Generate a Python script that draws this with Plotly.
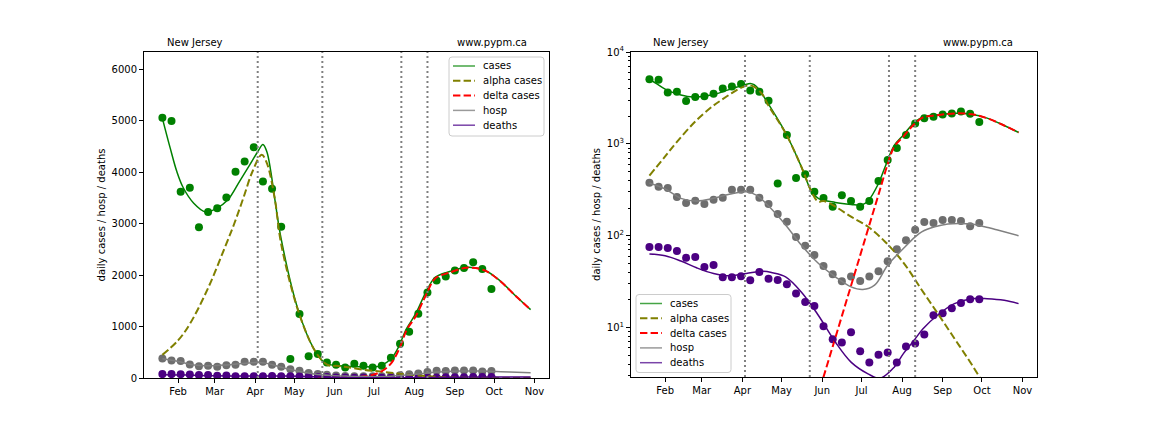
import pandas as pd
import plotly.graph_objects as go

# ---------------- data ----------------
point_dates = pd.date_range("2021-01-20", periods=37, freq="7D")

cases_pts = [5060, 5000, 3620, 3700, 2930, 3230, 3300, 3510, 4010, 4210, 4490, 3820, 3680, 2940,
             370, 1245, 425, 465, 300, 257, 206, 276, 239, 206, 239, 395, 665, 900, 1250, 1665,
             1895, 1975, 2090, 2140, 2250, 2120, 1730]
hosp_pts = [377, 340, 330, 264, 227, 240, 221, 246, 258, 316, 316, 316, 258, 221, 172, 142, 97,
            77.5, 61.4, 46.6, 38.1, 31.8, 36, 32, 36, 41, 52.5, 71.3, 89, 116, 141, 137, 148,
            148, 144, 127, 137]
deaths_pts = [75.5, 75.5, 73.5, 68, 57.4, 58.6, 45.6, 48, 35.3, 35.3, 36.2, 32.7, 40.2, 34, 33,
              29.5, 23.5, 18.9, 17.1, 10.3, 7.45, 6.85, 8.9, 5.5, 4.15, 5.05, 5.35, 4.15, 6.2,
              6.7, 8.4, 13.6, 14.3, 16.2, 18.5, 20.3, 20.3]

cases_model_dates = ["2021-01-20", "2021-01-26", "2021-01-31", "2021-02-05", "2021-02-13",
                     "2021-02-22", "2021-03-02", "2021-03-11", "2021-03-20", "2021-03-28",
                     "2021-04-03", "2021-04-07", "2021-04-10", "2021-04-13", "2021-04-16",
                     "2021-04-21", "2021-05-04", "2021-05-16", "2021-05-24", "2021-05-29",
                     "2021-06-11", "2021-06-23", "2021-07-01", "2021-07-06", "2021-07-14",
                     "2021-07-19", "2021-07-26", "2021-08-02", "2021-08-10", "2021-08-17",
                     "2021-08-28", "2021-09-10", "2021-09-23", "2021-10-05", "2021-10-18",
                     "2021-10-29"]
cases_model = [5050, 4470, 4020, 3700, 3400, 3230, 3290, 3460, 3820, 4150, 4400, 4540, 4400,
               4020, 3500, 2700, 1320, 565, 301, 255, 230, 219, 216, 239, 370, 560, 960, 1250,
               1680, 1960, 2070, 2155, 2105, 1905, 1585, 1330]

alpha_dates = ["2021-01-20", "2021-02-01", "2021-02-10", "2021-02-24", "2021-03-09",
               "2021-03-16", "2021-03-23", "2021-03-30", "2021-04-06", "2021-04-10",
               "2021-04-16", "2021-04-21", "2021-05-04", "2021-05-16", "2021-05-24",
               "2021-05-29", "2021-06-02", "2021-06-11", "2021-06-23", "2021-07-06",
               "2021-07-19", "2021-08-02", "2021-08-15", "2021-08-28", "2021-09-10",
               "2021-09-23", "2021-10-06", "2021-10-18", "2021-10-29"]
alpha_model = [450, 730, 1050, 1750, 2550, 3000, 3500, 4016, 4340, 4180, 3500, 2600, 1306, 565,
               298, 234, 239, 207, 161, 125, 86, 51, 27, 14.4, 7.6, 4.0, 2.0, 1.1, 0.63]

delta_dates = ["2021-05-19", "2021-05-26", "2021-06-02", "2021-06-09", "2021-06-16",
               "2021-06-23", "2021-06-30", "2021-07-07", "2021-07-14", "2021-07-21",
               "2021-07-26", "2021-08-02", "2021-08-10", "2021-08-17", "2021-08-28",
               "2021-09-10", "2021-09-23", "2021-10-05", "2021-10-18", "2021-10-29"]
delta_model = [0.62, 1.35, 2.9, 6.2, 13.3, 28.5, 61, 131, 280, 600, 930, 1200, 1620, 1940, 2050,
               2145, 2100, 1900, 1583, 1330]

hosp_dates = ["2021-01-20", "2021-02-01", "2021-02-13", "2021-02-25", "2021-03-10",
              "2021-03-22", "2021-04-04", "2021-04-12", "2021-04-21", "2021-05-04",
              "2021-05-16", "2021-05-29", "2021-06-11", "2021-06-23", "2021-07-02",
              "2021-07-11", "2021-07-21", "2021-08-02", "2021-08-11", "2021-08-16",
              "2021-08-26", "2021-09-05", "2021-09-13", "2021-09-23", "2021-10-03",
              "2021-10-13", "2021-10-29"]
hosp_model = [375, 323, 255, 239, 255, 282, 301, 275, 210, 131, 79, 50, 35.6, 27.7, 25.9, 28.9,
              47.7, 72.5, 97, 110, 125, 134, 136, 134, 125, 115, 100]

deaths_dates = ["2021-01-20", "2021-02-01", "2021-02-13", "2021-02-25", "2021-03-10",
                "2021-03-22", "2021-04-04", "2021-04-17", "2021-04-24", "2021-05-04",
                "2021-05-16", "2021-05-29", "2021-06-11", "2021-06-23", "2021-07-06",
                "2021-07-15", "2021-07-26", "2021-08-02", "2021-08-10", "2021-08-17",
                "2021-08-28", "2021-09-10", "2021-09-23", "2021-10-05", "2021-10-18",
                "2021-10-29"]
deaths_model = [63, 60.4, 52.9, 44.7, 38.7, 36.5, 38.7, 41, 39.5, 35.6, 24.4, 13.6, 6.95, 4.2,
                3.13, 2.8, 3.7, 5.2, 7.2, 9.7, 13.6, 18.2, 20.6, 20.6, 19.8, 18.2]

transition_dates = ["2021-04-03", "2021-05-22 12:00", "2021-07-22", "2021-08-11"]

month_ticks = ["2021-02-01", "2021-03-01", "2021-04-01", "2021-05-01", "2021-06-01",
               "2021-07-01", "2021-08-01", "2021-09-01", "2021-10-01", "2021-11-01"]
month_labels = ["Feb", "Mar", "Apr", "May", "Jun", "Jul", "Aug", "Sep", "Oct", "Nov"]

lin_ticks = [0, 1000, 2000, 3000, 4000, 5000, 6000]
log_ticks = [10, 100, 1000, 10000]
log_labels = ["10<sup>1</sup>", "10<sup>2</sup>", "10<sup>3</sup>", "10<sup>4</sup>"]
log_minor = [m * d for d in (1, 10, 100, 1000) for m in range(2, 10)]

series_names = ["cases", "alpha cases", "delta cases", "hosp", "deaths"]

x_range = ["2021-01-05 22:00", "2021-11-12 02:00"]

# ---------------- style ----------------
FONT = "DejaVu Sans"
C_CASES = "#008000"
C_ALPHA = "#808000"
C_DELTA = "#ff0000"
C_HOSP = "#808080"
C_HOSP_PT = "#6e6e6e"
C_DEATH = "#4b0082"
DASH = "7.4px,3.2px"

series_style = {
    "cases": dict(color=C_CASES, width=1.5),
    "alpha cases": dict(color=C_ALPHA, width=2, dash=DASH),
    "delta cases": dict(color=C_DELTA, width=2, dash=DASH),
    "hosp": dict(color=C_HOSP, width=1.5),
    "deaths": dict(color=C_DEATH, width=1.5),
}
legend_colors = {"cases": "#45a445", "alpha cases": "#808000", "delta cases": "#ff0000",
                 "hosp": "#9a9a9a", "deaths": "#7a44a8"}

# page body has an 8px margin; size the figure so page == window (1152x432)
OFF = 8
W, H = 1152 - 2 * OFF, 432 - 2 * OFF


def px(X):
    return (X - OFF) / W


def py(Y):
    return (H + OFF - Y) / H


fig = go.Figure()

model = {
    "cases": (cases_model_dates, cases_model),
    "alpha cases": (alpha_dates, alpha_model),
    "delta cases": (delta_dates, delta_model),
    "hosp": (hosp_dates, hosp_model),
    "deaths": (deaths_dates, deaths_model),
}

for xa, ya in (("x", "y"), ("x2", "y2")):
    for vals, col in ((cases_pts, C_CASES), (hosp_pts, C_HOSP_PT), (deaths_pts, C_DEATH)):
        fig.add_trace(go.Scatter(x=point_dates, y=vals, mode="markers", xaxis=xa, yaxis=ya,
                                 marker=dict(color=col, size=8), showlegend=False,
                                 hoverinfo="skip"))
    for name in series_names:
        d, v = model[name]
        fig.add_trace(go.Scatter(x=d, y=v, mode="lines", name=name, xaxis=xa, yaxis=ya,
                                 showlegend=False,
                                 line=dict(shape="spline", **series_style[name])))

shapes = []
for xref, yref in (("x", "y domain"), ("x2", "y2 domain")):
    for d in transition_dates:
        shapes.append(dict(type="line", xref=xref, yref=yref, x0=d, x1=d, y0=0, y1=1,
                           line=dict(color="#808080", width=2, dash="2px,3px"), layer="above"))

annots = []


def rounded_box(x0, y0, x1, y1, r=3):
    rx, ry = r / W, r / H
    X0, X1 = px(x0), px(x1)
    Yt, Yb = py(y0), py(y1)
    return (f"M {X0+rx},{Yt} L {X1-rx},{Yt} Q {X1},{Yt} {X1},{Yt-ry} "
            f"L {X1},{Yb+ry} Q {X1},{Yb} {X1-rx},{Yb} L {X0+rx},{Yb} "
            f"Q {X0},{Yb} {X0},{Yb+ry} L {X0},{Yt-ry} Q {X0},{Yt} {X0+rx},{Yt} Z")


def add_legend(box_left, box_top, box_w, box_h, line_x0, line_x1, text_x, row0, row_gap):
    shapes.append(dict(type="path", xref="paper", yref="paper",
                       path=rounded_box(box_left, box_top, box_left + box_w, box_top + box_h),
                       fillcolor="rgba(255,255,255,0.8)", line=dict(color="#cccccc", width=1),
                       layer="above"))
    for i, name in enumerate(series_names):
        yy = row0 + i * row_gap
        st = dict(series_style[name])
        st["color"] = legend_colors[name]
        shapes.append(dict(type="line", xref="paper", yref="paper",
                           x0=px(line_x0), x1=px(line_x1), y0=py(yy), y1=py(yy),
                           line=st, layer="above"))
        annots.append(dict(text=name, x=px(text_x), y=py(yy), xanchor="left", yanchor="middle"))


add_legend(449, 57, 95, 79, 453, 475, 481, 66, 14.8)
add_legend(636, 294.5, 95, 78, 640, 662, 668, 303.5, 14.8)

common_x = dict(type="date", range=x_range, tickvals=month_ticks, ticktext=month_labels,
                ticks="outside", ticklen=4, tickwidth=1, tickcolor="black",
                ticklabelstandoff=0, automargin=False,
                showline=True, linecolor="black", linewidth=1, mirror=True,
                showgrid=False, zeroline=False, tickfont=dict(size=10, color="black", family=FONT))
common_y = dict(ticks="outside", ticklen=4, tickwidth=1, tickcolor="black", automargin=False,
                showline=True, linecolor="black", linewidth=1, mirror=True,
                showgrid=False, zeroline=False, tickfont=dict(size=10, color="black", family=FONT),
                title=dict(text="daily cases / hosp / deaths", standoff=4,
                           font=dict(size=10, color="black", family=FONT)))

fig.update_layout(
    width=W, height=H, autosize=False,
    margin=dict(l=0, r=0, t=0, b=0, autoexpand=False),
    paper_bgcolor="white", plot_bgcolor="white",
    font=dict(family=FONT, size=10, color="black"),
    xaxis=dict(domain=[px(144), px(549)], anchor="y", **common_x),
    xaxis2=dict(domain=[px(631), px(1037)], anchor="y2", **common_x),
    yaxis=dict(domain=[py(378), py(52)], anchor="x", range=[0, 6340], tickvals=lin_ticks,
               **common_y),
    yaxis2=dict(domain=[py(377), py(52)], anchor="x2", type="log", range=[0.461, 4.0],
                tickvals=log_ticks, ticktext=log_labels,
                minor=dict(tickvals=log_minor, ticks="outside", ticklen=2, tickcolor="black",
                           showgrid=False),
                **common_y),
    shapes=shapes,
    showlegend=False,
)

titles = [
    dict(text="New Jersey", x=px(165), xanchor="left"),
    dict(text="www.pypm.ca", x=px(529), xanchor="right"),
    dict(text="New Jersey", x=px(651), xanchor="left"),
    dict(text="www.pypm.ca", x=px(1015), xanchor="right"),
]
for t in titles:
    annots.append(dict(text=t["text"], x=t["x"], y=py(42), xanchor=t["xanchor"],
                       yanchor="middle"))

for a in annots:
    fig.add_annotation(text=a["text"], x=a["x"], y=a["y"], xanchor=a["xanchor"],
                       yanchor=a["yanchor"], xref="paper", yref="paper", showarrow=False,
                       font=dict(size=10, color="black", family=FONT))

fig.write_html("out.html")
